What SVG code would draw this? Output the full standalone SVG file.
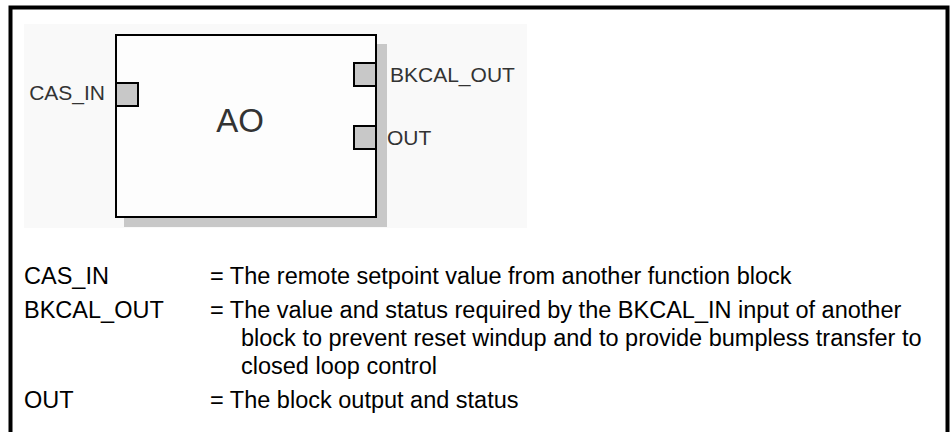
<svg xmlns="http://www.w3.org/2000/svg" width="951" height="432" viewBox="0 0 951 432">
<style>
.lbl{font-family:"Liberation Sans",Arial,sans-serif;font-size:21px;fill:#333}
.txt{font-family:"Liberation Sans",Arial,sans-serif;font-size:23.5px;fill:#000}
.port{fill:#c8c8c8;stroke:#000;stroke-width:2}
</style>
<rect x="0" y="0" width="951" height="432" fill="#fff"/>
<rect x="10.5" y="7.5" width="937" height="440" fill="#fff" stroke="#000" stroke-width="4"/>
<rect x="24" y="24" width="503" height="204" fill="#f9f9f9"/>
<g id="ao-block">
  <rect x="124" y="44" width="263" height="183" fill="#c8c8c8"/>
  <rect x="116" y="35" width="260" height="182" fill="#fdfdfd" stroke="#000" stroke-width="2"/>
  <text x="240" y="132" text-anchor="middle" font-family="Liberation Sans, Arial, sans-serif" font-size="33" fill="#333">AO</text>
</g>
<g id="port-cas-in">
  <rect class="port" x="116" y="83" width="22" height="23"/>
  <text class="lbl" x="105" y="100" text-anchor="end">CAS_IN</text>
</g>
<g id="port-bkcal-out">
  <rect class="port" x="354" y="63" width="22" height="23"/>
  <text class="lbl" x="390" y="82">BKCAL_OUT</text>
</g>
<g id="port-out">
  <rect class="port" x="354" y="126" width="22" height="23"/>
  <text class="lbl" x="387" y="145">OUT</text>
</g>
<g id="connectors"></g>
<g id="legend">
  <text class="txt" x="24" y="284">CAS_IN</text>
  <text class="txt" x="210" y="284">= The remote setpoint value from another function block</text>
  <text class="txt" x="24" y="318">BKCAL_OUT</text>
  <text class="txt" x="210" y="318">= The value and status required by the BKCAL_IN input of another</text>
  <text class="txt" x="241" y="346">block to prevent reset windup and to provide bumpless transfer to</text>
  <text class="txt" x="241" y="374">closed loop control</text>
  <text class="txt" x="24" y="408">OUT</text>
  <text class="txt" x="210" y="408">= The block output and status</text>
</g>
</svg>
